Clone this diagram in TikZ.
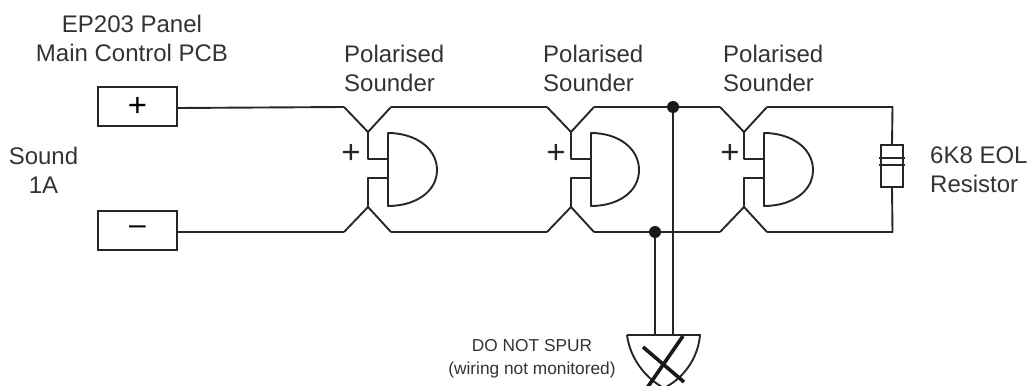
\documentclass[tikz,border=0pt]{standalone}
\usepackage{fontspec}
\setmainfont{Liberation Sans}
\begin{document}
\begin{tikzpicture}[x=1pt,y=-1pt,
  wire/.style={line width=1.9pt,draw=black!85,line join=round},
  term/.style={draw=black!85,line width=1.9pt,minimum width=79pt,minimum height=39pt,inner sep=0pt,font=\fontsize{30}{30}\selectfont},
  lbl/.style={font=\fontsize{24}{29}\selectfont,text=black!80,inner sep=0pt},
  small lbl/.style={font=\fontsize{17.3}{23}\selectfont,text=black!80,align=center,inner sep=0pt},
  pluslbl/.style={font=\fontsize{33}{33}\selectfont,text=black!85,inner sep=0pt},
  jdot/.style={circle,fill=black!90,minimum size=12pt,inner sep=0pt},
  res/.style={draw=black!85,line width=1.9pt,minimum width=22pt,minimum height=42pt,inner sep=0pt}]
\useasboundingbox (0,0) rectangle (1032,385);
\clip (0,0) rectangle (1032,385);
% terminals
\node[term,font=\fontsize{33}{33}\selectfont] (tp) at (137.5,106.5) {+};
\node[term] (tm) at (137.5,230.5) {–};
% sounders: vertex x, gate x, right x, label left, plus x
\foreach \n/\vx/\gx/\rx/\lx/\px in {a/368/388/437/344/351, b/571/591/639/543/556, c/744/764/813/723/730}{
  \coordinate (\n tl) at (\vx-24,107);
  \coordinate (\n tv) at (\vx,132);
  \coordinate (\n tr) at (\vx+23,107);
  \coordinate (\n bl) at (\vx-24,232);
  \coordinate (\n bv) at (\vx,207);
  \coordinate (\n br) at (\vx+23,232);
  \coordinate (\n g1) at (\gx,159);
  \coordinate (\n g2) at (\gx,178);
  \draw[wire] (\n tl) -- (\n tv) -- (\n tr);
  \draw[wire] (\n bl) -- (\n bv) -- (\n br);
  \draw[wire] (\n tv) |- (\n g1);
  \draw[wire] (\n bv) |- (\n g2);
  \draw[wire] (\gx,133) .. controls (\gx+27,133) and (\rx,148) .. (\rx,170)
     .. controls (\rx,192) and (\gx+27,206) .. (\gx,206) -- cycle;
  \node[pluslbl] at (\px,153.5) {+};
  \node[lbl,align=left,anchor=west] at (\lx,68) {Polarised\\Sounder};
}
% resistor
\node[res] (r) at (892,166) {};
\draw[wire] (879,158) -- (905,158);
\draw[wire] (879,165) -- (905,165);
\coordinate (rt) at (892.5,107);
\coordinate (rb) at (892.5,232);
% main wires
\draw[wire] (tp.east |- 0,108) -- (atl);
\draw[wire] (tm.east |- 0,232) -- (abl);
\draw[wire] (atr) -- (btl);
\draw[wire] (abr) -- (bbl);
\draw[wire] (btr) -- (ctl);
\draw[wire] (bbr) -- (cbl);
\draw[wire] (ctr) -- (rt) -- (r.north);
\draw[wire] (cbr) -- (rb) -- (r.south);
% spur
\node[jdot] (j1) at (673,107) {};
\node[jdot] (j2) at (655,232) {};
\coordinate (s1) at (673,335);
\coordinate (s2) at (655,335);
\draw[wire] (j1) -- (s1);
\draw[wire] (j2) -- (s2);
\draw[wire] (627,335) -- (700,335) .. controls (698,358) and (684,378) .. (664,388)
   .. controls (645,378) and (630,358) .. (627,335);
\draw[line width=3.6pt,draw=black!90] (683,336) -- (647,388);
\draw[line width=3.6pt,draw=black!90] (643,347) -- (684,382);
% labels
\node[lbl,align=center] at (132,38) {EP203 Panel\\Main Control PCB};
\node[lbl,align=center] at (43.5,170) {Sound\\1A};
\node[lbl,align=left,anchor=west] at (930,170) {6K8 EOL\\Resistor};
\node[small lbl] at (532,359) {DO NOT SPUR\\(wiring not monitored)};
\end{tikzpicture}
\end{document}
